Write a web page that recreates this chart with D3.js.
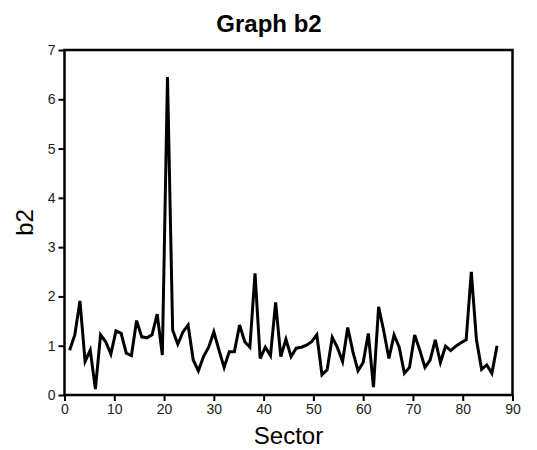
<!DOCTYPE html>
<html>
<head>
<meta charset="utf-8">
<script src="https://cdn.jsdelivr.net/npm/d3@7"></script>
<style>
  html, body { margin: 0; padding: 0; background: #fff; }
  svg { display: block; }
</style>
</head>
<body>
<svg id="chart" width="537" height="450"></svg>
<script>
// ---- data ----
const sectors = [1,2,3,4,5,6,7,8,9,10,11,12,13,14,15,16,17,18,19,20,
  21,22,23,24,25,26,27,28,29,30,31,32,33,34,35,36,37,38,39,40,
  41,42,43,44,45,46,47,48,49,50,51,52,53,54,55,56,57,58,59,60,
  61,62,63,64,65,66,67,68,69,70,71,72,73,74,75,76,77,78,79,80,
  81,82,83,84];
const b2 = [0.91,1.22,1.91,0.68,0.91,0.12,1.22,1.08,0.83,1.30,
  1.25,0.85,0.80,1.51,1.18,1.16,1.22,1.64,0.81,6.45,
  1.32,1.03,1.28,1.42,0.71,0.49,0.78,0.97,1.28,0.91,
  0.56,0.88,0.88,1.42,1.08,0.97,2.47,0.74,0.97,0.80,
  1.88,0.78,1.13,0.78,0.95,0.97,1.01,1.08,1.22,0.41,
  0.51,1.17,0.96,0.68,1.37,0.88,0.49,0.66,1.25,0.16,
  1.79,1.30,0.74,1.22,0.97,0.44,0.56,1.22,0.91,0.56,
  0.71,1.12,0.66,0.99,0.90,0.99,1.06,1.12,2.50,1.12,
  0.52,0.61,0.44,1.00];
const xTicks = [0,10,20,30,40,50,60,70,80,90];
const yTicks = [0,1,2,3,4,5,6,7];
const title = "Graph b2";
const xLabel = "Sector";
const yLabel = "b2";

// ---- layout ----
const svg = d3.select("#chart");
const L = 64.5, R = 512.5, T = 50, B = 395;
const FONT = "'Liberation Sans', Arial, sans-serif";

const x = d3.scaleLinear().domain([0, 90]).range([L, R]);
// the reference draws its line slightly stretched relative to the labelled axis
const xLine = d3.scaleLinear().domain([0, 87]).range([L, R]);
const y = d3.scaleLinear().domain([0, 7]).range([B, T]);

// title
svg.append("text")
  .attr("x", 269).attr("y", 32)
  .attr("text-anchor", "middle")
  .attr("font-family", FONT).attr("font-weight", "bold").attr("font-size", 24)
  .attr("fill", "#000")
  .text(title);

// axes
const xAxis = svg.append("g").attr("transform", `translate(0,${B})`)
  .call(d3.axisBottom(x).tickValues(xTicks).tickSize(6).tickPadding(3).tickFormat(d3.format("d")));
const yAxis = svg.append("g").attr("transform", `translate(${L},0)`)
  .call(d3.axisLeft(y).tickValues(yTicks).tickSize(6).tickPadding(3).tickFormat(d3.format("d")));
[xAxis, yAxis].forEach(g => {
  g.select(".domain").remove();
  g.selectAll(".tick line").attr("stroke", "#000").attr("stroke-width", 2);
  g.selectAll(".tick text").attr("font-family", FONT).attr("font-size", 14).attr("fill", "#222");
});

// frame
svg.append("rect")
  .attr("x", L).attr("y", T).attr("width", R - L).attr("height", B - T)
  .attr("fill", "none").attr("stroke", "#000").attr("stroke-width", 2.5);

// line
const line = d3.line().x((d, i) => xLine(sectors[i])).y(d => y(d));
svg.append("path")
  .datum(b2)
  .attr("d", line)
  .attr("fill", "none")
  .attr("stroke", "#000")
  .attr("stroke-width", 3)
  .attr("stroke-linejoin", "miter");

// axis labels
svg.append("text")
  .attr("x", (L + R) / 2).attr("y", 444)
  .attr("text-anchor", "middle")
  .attr("font-family", FONT).attr("font-size", 24).attr("fill", "#000")
  .text(xLabel);
svg.append("text")
  .attr("transform", `translate(33,${(T + B) / 2}) rotate(-90)`)
  .attr("text-anchor", "middle")
  .attr("font-family", FONT).attr("font-size", 24).attr("fill", "#000")
  .text(yLabel);
</script>
</body>
</html>
